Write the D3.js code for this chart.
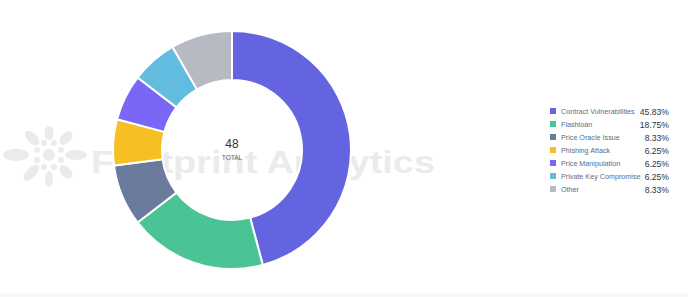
<!DOCTYPE html>
<html>
<head>
<meta charset="utf-8">
<script src="https://cdn.jsdelivr.net/npm/d3@7"></script>
<style>
  body { margin: 0; background: #fff; }
  svg { display: block; font-family: "Liberation Sans", Arial, sans-serif; }
</style>
</head>
<body>
<svg id="paper"></svg>
<script>
let categories = ["Contract Vulnerabilities", "Flashloan", "Price Oracle Issue", "Phishing Attack",
    "Price Manipulation", "Private Key Compromise", "Other"];
let counts = [22, 9, 4, 3, 3, 3, 4];
let percentLabels = ["45.83%", "18.75%", "8.33%", "6.25%", "6.25%", "6.25%", "8.33%"];
let colors = ["#6464e1", "#4bc495", "#6a7b9d", "#f6bf22", "#7a66f7", "#61bcdf", "#b8bac3"];

let width = 688, height = 297;
let cx = 232, cy = 150, outerR = 119, innerR = 70;

let svg = d3.select("#paper")
    .attr("width", width)
    .attr("height", height);

// bottom strip
svg.append("rect")
    .attr("x", 0).attr("y", 293)
    .attr("width", width).attr("height", 4)
    .attr("fill", "#f8f8f8");

// watermark
let wm = svg.append("g").attr("fill", "#ebebee");
let logo = wm.append("g").attr("transform", "translate(49,155)");
logo.append("circle").attr("r", 6);
let petals = [
    {a: 0, r: 27, rx: 11, ry: 5},
    {a: 45, r: 24, rx: 8, ry: 5},
    {a: 90, r: 24, rx: 8, ry: 4},
    {a: 135, r: 25, rx: 10, ry: 5},
    {a: 180, r: 33, rx: 13, ry: 6},
    {a: 225, r: 24, rx: 9, ry: 5},
    {a: 270, r: 22, rx: 7, ry: 4.5},
    {a: 315, r: 24, rx: 8, ry: 5}
];
petals.forEach(p => {
    let rad = p.a * Math.PI / 180;
    logo.append("ellipse")
        .attr("cx", Math.cos(rad) * p.r)
        .attr("cy", Math.sin(rad) * p.r)
        .attr("rx", p.rx).attr("ry", p.ry)
        .attr("transform", "rotate(" + p.a + "," + Math.cos(rad) * p.r + "," + Math.sin(rad) * p.r + ")");
});
for (let i = 0; i < 8; i++) {
    let rad = (i * 45 + 22.5) * Math.PI / 180;
    logo.append("circle")
        .attr("cx", Math.cos(rad) * 13)
        .attr("cy", Math.sin(rad) * 13)
        .attr("r", 3);
}
wm.append("text")
    .attr("x", 91).attr("y", 173)
    .attr("font-size", 32)
    .attr("font-weight", "bold")
    .attr("textLength", 344)
    .attr("lengthAdjust", "spacingAndGlyphs")
    .text("Footprint Analytics");

// donut
let pie = d3.pie().sort(null).value(d => d)(counts);
let arc = d3.arc().innerRadius(innerR).outerRadius(outerR);

let g = svg.append("g").attr("transform", "translate(" + cx + "," + cy + ")");
g.selectAll(".slice")
    .data(pie)
    .enter()
    .append("path")
    .classed("slice", true)
    .attr("d", arc)
    .attr("fill", (d, i) => colors[i])
    .attr("stroke", "#fff")
    .attr("stroke-width", 2);

g.append("text")
    .attr("y", -2)
    .attr("text-anchor", "middle")
    .attr("font-size", 12)
    .attr("fill", "#333")
    .text(d3.sum(counts));
g.append("text")
    .attr("y", 10)
    .attr("text-anchor", "middle")
    .attr("font-size", 6.5)
    .attr("fill", "#666")
    .text("TOTAL");

// legend
let legendY = d3.scaleBand()
    .domain(categories)
    .range([104.5, 195.5]);

let legend = svg.selectAll(".legend")
    .data(categories)
    .enter()
    .append("g")
    .classed("legend", true)
    .attr("transform", d => "translate(0," + (legendY(d) + legendY.bandwidth() / 2) + ")");

legend.append("rect")
    .attr("x", 550).attr("y", -3)
    .attr("width", 6).attr("height", 6)
    .attr("fill", (d, i) => colors[i]);
legend.append("text")
    .attr("x", 561).attr("y", 2.5)
    .attr("font-size", 7.2)
    .attr("fill", "#5b6b86")
    .text(d => d);
legend.append("text")
    .attr("x", 669).attr("y", 3.5)
    .attr("text-anchor", "end")
    .attr("font-size", 8.6)
    .attr("fill", "#333")
    .text((d, i) => percentLabels[i]);
</script>
</body>
</html>
